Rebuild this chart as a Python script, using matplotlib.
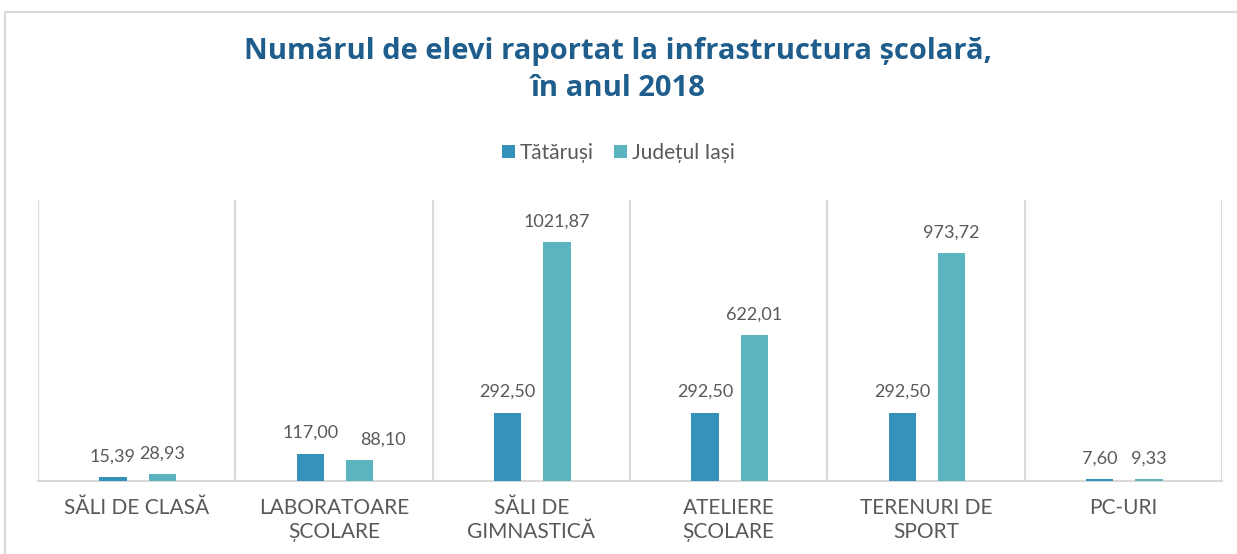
import matplotlib.pyplot as plt
import matplotlib.patches as patches
import numpy as np

# Chart data
categories = ['SĂLI DE CLASĂ', 'LABORATOARE\nȘCOLARE', 'SĂLI DE\nGIMNASTICĂ',
              'ATELIERE\nȘCOLARE', 'TERENURI DE\nSPORT', 'PC-URI']
tatarusi = [15.39, 117.00, 292.50, 292.50, 292.50, 7.60]
judetul_iasi = [28.93, 88.10, 1021.87, 622.01, 973.72, 9.33]
series_names = ['Tătăruși', 'Județul Iași']

dark_blue = '#3593BA'
light_teal = '#5AB5BF'
grey_text = '#595959'
grid_grey = '#D9D9D9'

plt.rcParams['font.family'] = ['Lato', 'DejaVu Sans']

fig = plt.figure(figsize=(12.37, 5.54), dpi=100)

# outer chart frame
fig.patches.append(patches.Rectangle((5 / 1237, -0.05), 1.1, (554 - 12) / 554 + 0.05,
                                     transform=fig.transFigure, fill=False,
                                     edgecolor=grid_grey, linewidth=1.5))

ax = fig.add_axes([38 / 1237, (554 - 481) / 554, (1222 - 38) / 1237, (481 - 200) / 554])

x = np.arange(len(categories))
width = 0.14
b1 = ax.bar(x - 0.12, tatarusi, width, color=dark_blue, label=series_names[0], zorder=3)
b2 = ax.bar(x + 0.13, judetul_iasi, width, color=light_teal, label=series_names[1], zorder=3)

def fmt(v):
    return f'{v:.2f}'.replace('.', ',')

# value labels; the 88,10 label is nudged right in the original to avoid 117,00
for s, (bars, vals) in enumerate([(b1, tatarusi), (b2, judetul_iasi)]):
    for i, (bar, v) in enumerate(zip(bars, vals)):
        dx = 17 if (s == 1 and i == 1) else 0
        ax.annotate(fmt(v), (bar.get_x() + bar.get_width() / 2, v),
                    xytext=(dx, 9), textcoords='offset points', ha='center', va='bottom',
                    fontsize=13, color=grey_text)

ax.set_xlim(-0.5, len(categories) - 0.5)
ax.set_ylim(0, 1200)
ax.set_yticks([])
ax.set_xticks(x)
ax.set_xticklabels(categories, fontsize=15, color=grey_text, linespacing=1.25)
ax.tick_params(axis='x', length=0, pad=12)

# vertical separators between categories
for b in np.arange(-0.5, len(categories), 1):
    ax.axvline(b, color=grid_grey, linewidth=1.5, zorder=0)
for side in ['top', 'left', 'right']:
    ax.spines[side].set_visible(False)
ax.spines['bottom'].set_color(grid_grey)
ax.spines['bottom'].set_linewidth(1.5)

fig.text(0.5, 0.874, 'Numărul de elevi raportat la infrastructura școlară,\nîn anul 2018',
         ha='center', va='center', fontsize=21, fontweight='bold', color='#1F5E8C',
         family=['Open Sans', 'DejaVu Sans'], linespacing=1.35)

fig.legend(handles=[b1, b2], labels=series_names, loc='center', bbox_to_anchor=(0.5, 0.724),
           ncol=2, frameon=False, fontsize=15, labelcolor=grey_text,
           handlelength=0.6, handleheight=0.6, handletextpad=0.25, columnspacing=1.0)

fig.savefig('out.png', dpi=100)
